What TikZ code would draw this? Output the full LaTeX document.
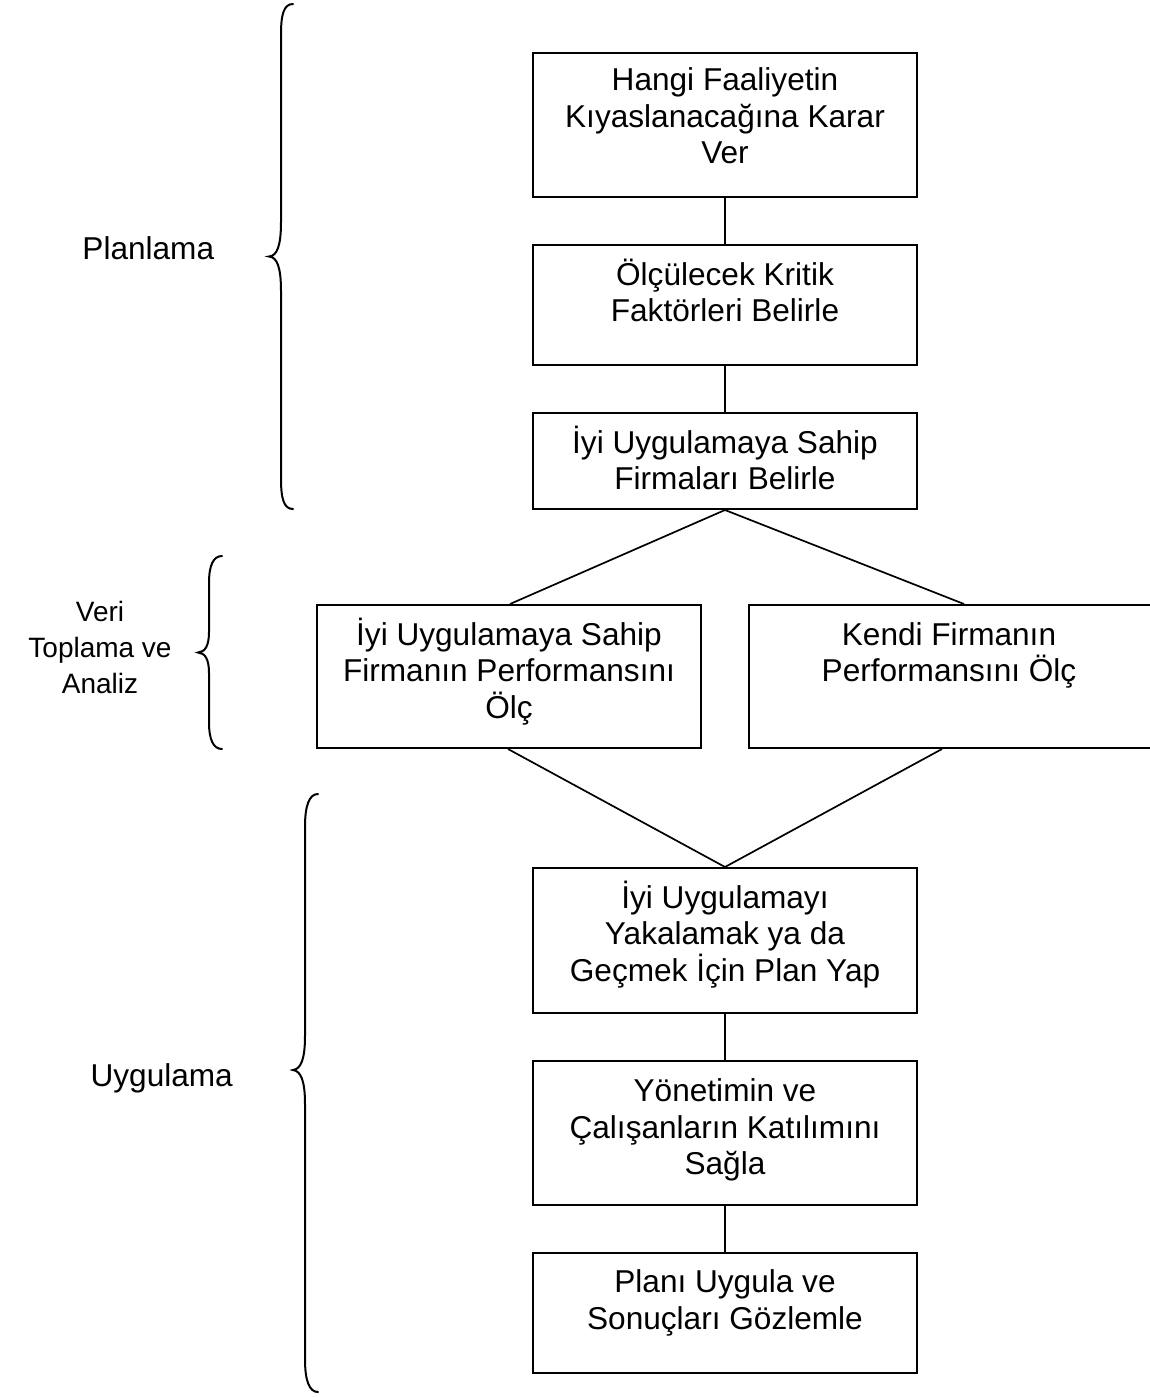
\documentclass[tikz,border=0pt]{standalone}
\usepackage{fontspec}
\setmainfont{Liberation Sans}
\newcommand\stk[1]{\vtop{\halign{\hfil##\hfil\cr#1\crcr}}}
\begin{document}
\begin{tikzpicture}[x=1pt,y=-1pt,
  box/.style={draw, line width=2pt, inner sep=0pt, minimum width=384pt},
  lbl/.style={anchor=base, inner sep=0pt, font=\fontsize{31.6pt}{36.5pt}\selectfont},
  conn/.style={line width=1.7pt},
  brc/.style={line width=2pt, line cap=round}]
\fill[white] (0,0) rectangle (1150,1398);
\useasboundingbox (0,0) rectangle (1150,1398);
% boxes
\node[box, minimum height=144pt] (b1) at (725,125) {};
\node[box, minimum height=120pt] (b2) at (725,305) {};
\node[box, minimum height=96pt] (b3) at (725,461) {};
\node[box, minimum height=143pt] (b4) at (509,676.5) {};
\node[box, minimum width=403pt, minimum height=143pt] (b5) at (950.5,676.5) {};
\node[box, minimum height=145pt] (b6) at (725,940.5) {};
\node[box, minimum height=144pt] (b7) at (725,1133) {};
\node[box, minimum height=120pt] (b8) at (725,1313) {};
% texts
\node[lbl] (t1) at (725,90.7) {\stk{Hangi Faaliyetin\cr Kıyaslanacağına Karar\cr Ver}};
\node[lbl] (t2) at (725,285) {\stk{Ölçülecek Kritik\cr Faktörleri Belirle}};
\node[lbl] (t3) at (725,453) {\stk{İyi Uygulamaya Sahip\cr Firmaları Belirle}};
\node[lbl] (t4) at (509,645) {\stk{İyi Uygulamaya Sahip\cr Firmanın Performansını\cr Ölç}};
\node[lbl] (t5) at (949,645) {\stk{Kendi Firmanın\cr Performansını Ölç}};
\node[lbl] (t6) at (725,908) {\stk{İyi Uygulamayı\cr Yakalamak ya da\cr Geçmek İçin Plan Yap}};
\node[lbl] (t7) at (725,1101.5) {\stk{Yönetimin ve\cr Çalışanların Katılımını\cr Sağla}};
\node[lbl] (t8) at (725,1292.5) {\stk{Planı Uygula ve\cr Sonuçları Gözlemle}};
% side labels
\node[lbl] (l1) at (148.3,259.3) {Planlama};
\node[lbl, font=\fontsize{28pt}{36pt}\selectfont] (l2) at (100,621) {\stk{Veri\cr Toplama ve\cr Analiz}};
\node[lbl] (l3) at (161.7,1086.7) {Uygulama};
% connectors
\draw[conn] (b1.south) -- (b2.north);
\draw[conn] (b2.south) -- (b3.north);
\draw[conn] (b3.south) -- ([xshift=1pt]b4.north);
\draw[conn] (b3.south) -- ([xshift=13.5pt]b5.north);
\draw[conn] ([xshift=-1pt]b4.south) -- (b6.north);
\draw[conn] ([xshift=-8.5pt]b5.south) -- (b6.north);
\draw[conn] (b6.south) -- (b7.north);
\draw[conn] (b7.south) -- (b8.north);
% braces
\draw[brc] (293,4) .. controls (284,4) and (281,14) .. (281,34) -- (281,222)
  .. controls (281,246) and (277,256) .. (269,256.5)
  .. controls (277,257) and (281,267) .. (281,291) -- (281,479)
  .. controls (281,499) and (284,509) .. (293,509);
\draw[brc] (222,556) .. controls (213,556) and (209,566) .. (209,583) -- (209,632)
  .. controls (209,646) and (205,652) .. (198,652.5)
  .. controls (205,653) and (209,659) .. (209,673) -- (209,722)
  .. controls (209,739) and (213,749) .. (222,749);
\draw[brc] (318,794) .. controls (309,794) and (305,806) .. (305,827) -- (305,1036)
  .. controls (305,1059) and (301,1069) .. (293,1070)
  .. controls (301,1071) and (305,1081) .. (305,1104) -- (305,1359)
  .. controls (305,1380) and (309,1392) .. (318,1392);
\end{tikzpicture}
\end{document}
